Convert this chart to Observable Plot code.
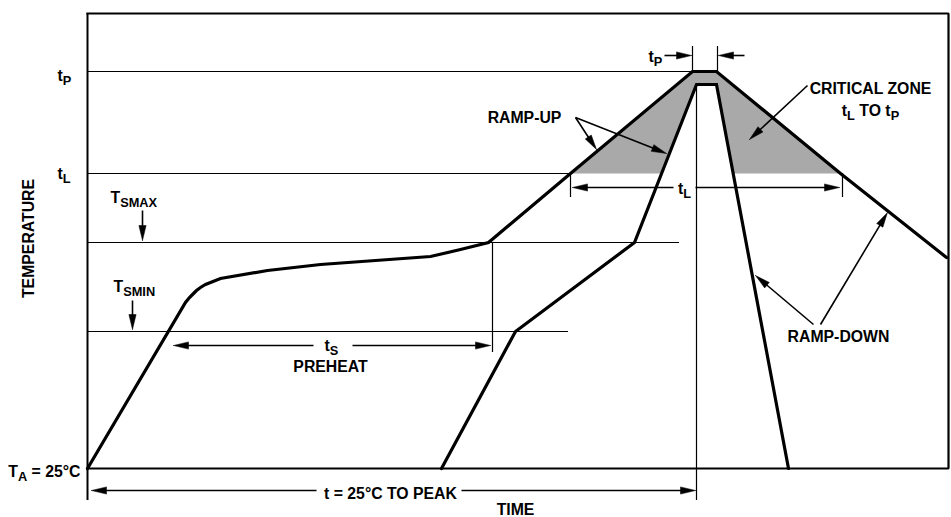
<!DOCTYPE html>
<html>
<head>
<meta charset="utf-8">
<script src="https://cdn.jsdelivr.net/npm/d3@7"></script>
<script src="https://cdn.jsdelivr.net/npm/@observablehq/plot@0.6"></script>
<style>
  html, body { margin: 0; padding: 0; background: #fff; }
  #chart { width: 951px; height: 517px; }
</style>
</head>
<body>
<div id="chart"></div>
<script>
// Diagram units: time (t) to the right, temperature (temp) upward, T_A = 0.

// Outer (maximum) reflow profile
const outerProfile = [
  {t: 0, temp: 0}, {t: 98, temp: 166}, {t: 102, temp: 171}, {t: 106, temp: 175},
  {t: 109, temp: 178}, {t: 113, temp: 181}, {t: 118, temp: 184}, {t: 123, temp: 186},
  {t: 133, temp: 190}, {t: 180, temp: 198}, {t: 233, temp: 204}, {t: 343, temp: 212},
  {t: 373, temp: 219}, {t: 401, temp: 226}, {t: 483, temp: 295}, {t: 605, temp: 397},
  {t: 629, temp: 397}, {t: 753, temp: 295}, {t: 859, temp: 211}
];

// Inner (minimum) reflow profile
const innerProfile = [
  {t: 354, temp: 0}, {t: 428, temp: 137}, {t: 547, temp: 226},
  {t: 609, temp: 384}, {t: 629, temp: 384}, {t: 701, temp: 0}
];

// Critical zone t_L to t_P (shaded)
const criticalZone = [
  {t: 483, temp: 295}, {t: 605, temp: 397}, {t: 629, temp: 397}, {t: 753, temp: 295},
  {t: 646, temp: 295}, {t: 629, temp: 384}, {t: 609, temp: 384}, {t: 574, temp: 295},
  {t: 483, temp: 295}
];

// Reference temperature levels
const refTemps = [
  {name: "tP", temp: 397, tEnd: 605},
  {name: "tL", temp: 295, tEnd: 483},
  {name: "TSMAX", temp: 226, tEnd: 592},
  {name: "TSMIN", temp: 137, tEnd: 481}
];

// Reference time markers
const refTimes = [
  {name: "peak", t: 609, from: -32, to: 384},
  {name: "tS end", t: 405, from: 116, to: 226},
  {name: "tL start", t: 483, from: 271, to: 295},
  {name: "tL end", t: 755, from: 271, to: 295},
  {name: "tP start", t: 605, from: 397, to: 422},
  {name: "tP end", t: 630, from: 397, to: 422}
];

// Frame of the diagram
const frameEdges = [
  {t: 0, temp: 0}, {t: 861, temp: 0}, {t: 861, temp: 455}, {t: 0, temp: 455}
];
const frameLeft = [{t: 0, from: -32, to: 455}];

// Arrows: tail (t1,temp1) -> tip (t2,temp2)
const arrows = [
  {id: "tS-left",  t1: 226, temp1: 123, t2: 86,  temp2: 123},
  {id: "tS-right", t1: 265, temp1: 123, t2: 403, temp2: 123},
  {id: "tL-left",  t1: 586, temp1: 281, t2: 485, temp2: 281},
  {id: "tL-right", t1: 608, temp1: 281, t2: 752, temp2: 281},
  {id: "tot-left", t1: 229, temp1: -22, t2: 4,   temp2: -22},
  {id: "tot-right",t1: 374, temp1: -22, t2: 608, temp2: -22},
  {id: "tP-left",  t1: 577, temp1: 413, t2: 604, temp2: 413},
  {id: "tP-right", t1: 657, temp1: 413, t2: 631, temp2: 413},
  {id: "tsmax",    t1: 55,  temp1: 258, t2: 55,  temp2: 228},
  {id: "tsmin",    t1: 45,  temp1: 168, t2: 45,  temp2: 139},
  {id: "up1",      t1: 488, temp1: 351, t2: 509, temp2: 319},
  {id: "up2",      t1: 488, temp1: 351, t2: 579, temp2: 315},
  {id: "crit",     t1: 720, temp1: 383, t2: 662, temp2: 329},
  {id: "down1",    t1: 726, temp1: 144, t2: 668, temp2: 193},
  {id: "down2",    t1: 733, temp1: 144, t2: 800, temp2: 256}
];

// Text labels ({..} = subscript)
const startLabels = [
  {text: "t{P}", t: -30, temp: 393},
  {text: "t{L}", t: -30, temp: 295},
  {text: "T{SMAX}", t: 23, temp: 271},
  {text: "T{SMIN}", t: 26, temp: 182}
];
const endLabels = [
  {text: "T{A} = 25°C", t: -7, temp: -3}
];
const middleLabels = [
  {text: "t{S}", t: 244, temp: 123},
  {text: "PREHEAT", t: 243, temp: 102},
  {text: "t{L}", t: 597, temp: 280},
  {text: "t{P}", t: 568, temp: 412},
  {text: "t = 25°C TO PEAK", t: 303, temp: -25},
  {text: "TIME", t: 428, temp: -41},
  {text: "RAMP-UP", t: 437, temp: 351},
  {text: "CRITICAL ZONE", t: 783, temp: 380},
  {text: "t{L} TO t{P}", t: 783, temp: 358},
  {text: "RAMP-DOWN", t: 751, temp: 132}
];
const axisTitleY = [{text: "TEMPERATURE", t: -59, temp: 230}];

// ---- derived geometry for filled arrow heads (1 unit = 1 px) ----
const HEAD_LEN = 15, HEAD_HALF = 3.6;
const shafts = [];
const heads = [];
for (const a of arrows) {
  const dx = a.t2 - a.t1, dy = a.temp2 - a.temp1;
  const len = Math.hypot(dx, dy);
  const ux = dx / len, uy = dy / len;
  const px = -uy, py = ux;
  const bx = a.t2 - HEAD_LEN * ux, by = a.temp2 - HEAD_LEN * uy;
  shafts.push({t1: a.t1, temp1: a.temp1, t2: a.t2 - (HEAD_LEN - 3) * ux, temp2: a.temp2 - (HEAD_LEN - 3) * uy});
  heads.push({id: a.id, t: a.t2, temp: a.temp2});
  heads.push({id: a.id, t: bx + HEAD_HALF * px, temp: by + HEAD_HALF * py});
  heads.push({id: a.id, t: bx - HEAD_HALF * px, temp: by - HEAD_HALF * py});
  heads.push({id: a.id, t: a.t2, temp: a.temp2});
}

const FONT = 15.8;
const textCommon = {x: "t", y: "temp", text: "text", fontSize: FONT, fontWeight: "bold", fill: "#000"};

const chart = Plot.plot({
  width: 951,
  height: 517,
  marginLeft: 0, marginRight: 0, marginTop: 0, marginBottom: 0,
  x: {domain: [-87, 864], axis: null},
  y: {domain: [-49, 468], axis: null},
  style: {fontFamily: "'Liberation Sans', Arial, Helvetica, sans-serif", background: "#fff", color: "#000"},
  marks: [
    Plot.line(criticalZone, {x: "t", y: "temp", fill: "#a9a9a9", stroke: "none"}),
    Plot.ruleY(refTemps, {y: "temp", x1: 0, x2: "tEnd", stroke: "#000", strokeWidth: 1.2}),
    Plot.ruleX(refTimes, {x: "t", y1: "from", y2: "to", stroke: "#000", strokeWidth: 1.2}),
    Plot.line(frameEdges, {x: "t", y: "temp", stroke: "#000", strokeWidth: 2.2, strokeLinecap: "square", strokeLinejoin: "miter"}),
    Plot.ruleX(frameLeft, {x: "t", y1: "from", y2: "to", stroke: "#000", strokeWidth: 2}),
    Plot.line(outerProfile, {x: "t", y: "temp", stroke: "#000", strokeWidth: 3.2, strokeLinejoin: "miter", strokeMiterlimit: 4}),
    Plot.line(innerProfile, {x: "t", y: "temp", stroke: "#000", strokeWidth: 3.2, strokeLinejoin: "miter", strokeMiterlimit: 4}),
    Plot.link(shafts, {x1: "t1", y1: "temp1", x2: "t2", y2: "temp2", stroke: "#000", strokeWidth: 1.6}),
    Plot.line(heads, {x: "t", y: "temp", z: "id", fill: "#000", stroke: "#000", strokeWidth: 0.5, strokeLinejoin: "miter"}),
    Plot.text(startLabels, {...textCommon, textAnchor: "start"}),
    Plot.text(endLabels, {...textCommon, textAnchor: "end"}),
    Plot.text(middleLabels, {...textCommon, textAnchor: "middle"}),
    Plot.text(axisTitleY, {...textCommon, textAnchor: "middle", rotate: -90})
  ]
});

// Render {..} parts as subscripts
const NS = "http://www.w3.org/2000/svg";
function subscriptify(el) {
  const s = el.textContent;
  if (!s.includes("{")) return;
  const parts = s.split(/(\{[^}]*\})/).filter(p => p.length);
  while (el.firstChild) el.removeChild(el.firstChild);
  let down = false;
  for (const p of parts) {
    const ts = document.createElementNS(NS, "tspan");
    if (p.startsWith("{")) {
      ts.textContent = p.slice(1, -1);
      ts.setAttribute("font-size", 12.8);
      if (!down) { ts.setAttribute("dy", 4.5); down = true; }
    } else {
      ts.textContent = p;
      if (down) { ts.setAttribute("dy", -4.5); down = false; }
    }
    el.appendChild(ts);
  }
}
chart.querySelectorAll("text").forEach(t => {
  const spans = t.querySelectorAll("tspan");
  if (spans.length) spans.forEach(subscriptify); else subscriptify(t);
});

document.getElementById("chart").appendChild(chart);
</script>
</body>
</html>
